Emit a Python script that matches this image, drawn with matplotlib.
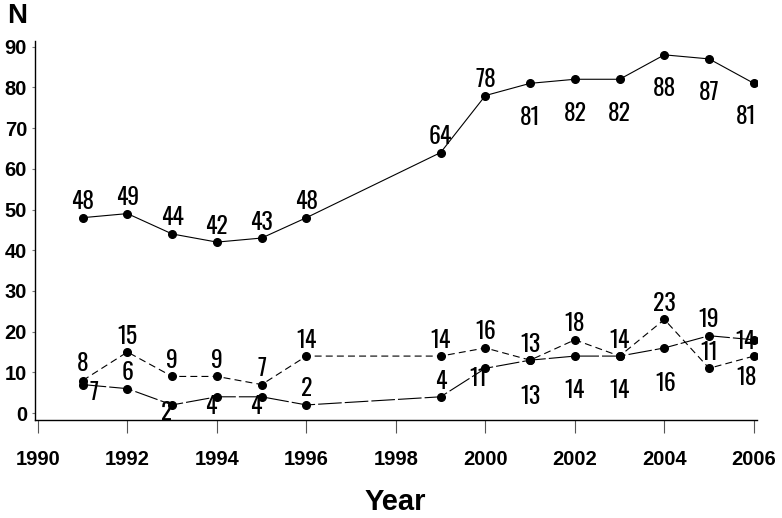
import matplotlib
matplotlib.use("Agg")
import matplotlib.pyplot as plt

years = [1991, 1992, 1993, 1994, 1995, 1996, 1999, 2000, 2001, 2002, 2003, 2004, 2005, 2006]
series_a = [48, 49, 44, 42, 43, 48, 64, 78, 81, 82, 82, 88, 87, 81]
series_b = [8, 15, 9, 9, 7, 14, 14, 16, 13, 18, 14, 23, 11, 14]
series_c = [7, 6, 2, 4, 4, 2, 4, 11, 13, 14, 14, 16, 19, 18]
labels_a = ["48", "49", "44", "42", "43", "48", "64", "78", "81", "82", "82", "88", "87", "81"]
labels_b = ["8", "15", "9", "9", "7", "14", "14", "16", "13", "18", "14", "23", "11", "18"]
labels_c = ["7", "6", "2", "4", "4", "2", "4", "11", "13", "14", "14", "16", "19", "14"]
x_ticks = [1990, 1992, 1994, 1996, 1998, 2000, 2002, 2004, 2006]
y_ticks = [0, 10, 20, 30, 40, 50, 60, 70, 80, 90]

# label offsets in pixels (dx, dy), dy positive = up
UP = (0, 16)
off_a = [UP] * 8 + [(0, -34)] * 5 + [(-8, -33)]
off_b = [(0, 17), UP, UP, UP, UP, UP, UP, UP, UP, UP, UP, UP, UP, (-7, -21)]
off_c = [(11, -8), UP, (-5, -8), (-6, -10), (-6, -10), UP, (0, 15), (-7, -10),
         (0, -36), (0, -34), (0, -34), (1, -36), UP, (-8, -2)]

plt.rcParams['lines.scale_dashes'] = False
DPI = 100
fig = plt.figure(figsize=(7.82, 5.18), dpi=DPI)
ax = fig.add_axes([34.8 / 782, 98 / 518, (757 - 34.8) / 782, (477 - 98) / 518])

ax.plot(years, series_a, color='black', lw=0.8, marker='o', ms=5.5)
ax.plot(years, series_b, color='black', lw=0.8, linestyle=(0, (5, 3)), marker='o', ms=5.5)
ax.plot(years, series_c, color='black', lw=0.8, linestyle=(0, (17, 2.2)), marker='o', ms=5.5)

lab_font = dict(family=['Oswald', 'Roboto Condensed', 'Liberation Sans', 'DejaVu Sans'],
                fontsize=17, weight=500)
pt = 72.0 / DPI
for ys, labs, offs in ((series_a, labels_a, off_a), (series_b, labels_b, off_b),
                       (series_c, labels_c, off_c)):
    for x, y, t, (dx, dy) in zip(years, ys, labs, offs):
        ax.annotate(t, (x, y), xytext=(dx * pt, dy * pt), textcoords='offset points',
                    ha='center', va='center', **lab_font)

ax.set_xlim(1989.93, 2006.07)
ax.set_ylim(-1.7, 91.4)
ax.set_xticks(x_ticks)
ax.set_yticks(y_ticks)
for s in ('top', 'right'):
    ax.spines[s].set_visible(False)
for s in ('left', 'bottom'):
    ax.spines[s].set_linewidth(1.0)
ax.tick_params(axis='x', length=9.4, width=0.8, color='#555555', pad=12)
ax.tick_params(axis='y', length=2, width=0.8, color='#777777', pad=3.6)
for lab in ax.get_xticklabels() + ax.get_yticklabels():
    lab.set_fontfamily(['Liberation Sans', 'DejaVu Sans'])
    lab.set_fontweight('bold')
    lab.set_fontsize(14.5)

fig.text(395 / 782, 1 - 502 / 518, 'Year', ha='center', va='center',
         family=['Liberation Sans', 'DejaVu Sans'], weight='bold', fontsize=21)
fig.text(17 / 782, 1 - 16 / 518, 'N', ha='center', va='center',
         family=['Liberation Sans', 'DejaVu Sans'], weight='bold', fontsize=20)

fig.savefig('out.png', dpi=DPI)
